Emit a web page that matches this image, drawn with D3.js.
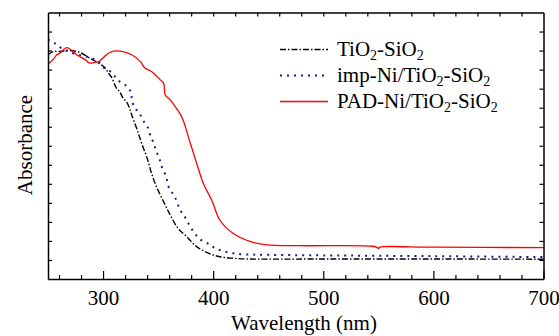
<!DOCTYPE html>
<html>
<head>
<meta charset="utf-8">
<script src="https://cdn.jsdelivr.net/npm/d3@7"></script>
<style>
  body { margin: 0; background: #fff; }
  svg text { font-family: 'Liberation Serif', 'DejaVu Serif', Times, serif; }
</style>
</head>
<body>
<svg id="chart" width="559" height="336"></svg>
<script>
// values (wavelength in nm, absorbance in arbitrary units)
const tsWl = [250, 255, 261, 268, 279, 288, 296, 302, 305, 308, 312, 315, 318, 322, 326, 331, 335, 340, 344, 349, 355, 361, 368, 376, 385, 396, 406, 418, 434, 500, 600, 700];
const tsAbs = [1.178, 1.195, 1.195, 1.201, 1.190, 1.160, 1.134, 1.108, 1.081, 1.057, 1.004, 0.985, 0.952, 0.924, 0.862, 0.783, 0.713, 0.635, 0.556, 0.478, 0.406, 0.336, 0.267, 0.222, 0.170, 0.135, 0.117, 0.109, 0.105, 0.105, 0.105, 0.104];

const impWl = [250, 256, 262, 270, 282, 290, 296, 302, 308, 313, 320, 325, 326, 328, 333, 337, 341, 343, 346, 348, 351, 353, 356, 358, 360, 365, 370, 375, 381, 388, 396, 402, 409, 418, 427, 450, 500, 600, 700];
const impAbs = [1.259, 1.239, 1.213, 1.191, 1.172, 1.160, 1.138, 1.103, 1.086, 1.046, 1.020, 0.985, 0.955, 0.906, 0.871, 0.827, 0.792, 0.752, 0.713, 0.675, 0.635, 0.594, 0.556, 0.520, 0.477, 0.433, 0.363, 0.319, 0.258, 0.209, 0.184, 0.161, 0.147, 0.135, 0.130, 0.127, 0.124, 0.120, 0.115];

const padWl = [250, 255, 258, 261, 267, 274, 276, 284, 288, 293, 296, 303, 308, 318, 326, 334, 338, 344, 352, 355, 356.5, 361, 365, 372, 378, 384, 391, 399, 406, 418, 434, 449, 479, 545, 549, 550, 551, 555, 600, 700];
const padAbs = [1.129, 1.155, 1.178, 1.187, 1.215, 1.188, 1.178, 1.151, 1.134, 1.139, 1.142, 1.178, 1.195, 1.195, 1.178, 1.142, 1.108, 1.090, 1.046, 1.029, 0.967, 0.941, 0.910, 0.845, 0.736, 0.626, 0.503, 0.410, 0.310, 0.240, 0.196, 0.179, 0.175, 0.172, 0.165, 0.160, 0.166, 0.170, 0.167, 0.165];

const xMajorTicks = [300, 400, 500, 600, 700];
const xTicks = d3.range(260, 700, 20);
const yTicks = d3.range(1, 14).map(d => d / 10);

const margin = { top: 12.5, right: 15.5, bottom: 57, left: 48 };
const w = 559;
const h = 336;
const serif = "'Liberation Serif', 'DejaVu Serif', Times, serif";

const svg = d3.select('#chart');

const x = d3.scaleLinear().domain([250, 700]).range([margin.left, w - margin.right]);
const y = d3.scaleLinear().domain([0, 1.4]).range([h - margin.bottom, margin.top]);

// curves
const series = [
  { wl: tsWl, abs: tsAbs, color: '#000', dash: '6,2,1.5,2', width: 1.4 },
  { wl: impWl, abs: impAbs, color: '#1a1a8c', dash: '2,5', width: 2 },
  { wl: padWl, abs: padAbs, color: '#ff0000', dash: null, width: 1.3 }
];

const line = d3.line()
  .x(d => x(d[0]))
  .y(d => y(d[1]))
  .curve(d3.curveCatmullRom.alpha(0.5));

series.forEach(s => {
  svg.append('path')
    .datum(s.wl.map((v, i) => [v, s.abs[i]]))
    .attr('fill', 'none')
    .attr('stroke', s.color)
    .attr('stroke-width', s.width)
    .attr('stroke-dasharray', s.dash)
    .attr('d', line);
});

// axes, ticks pointing inward
const axisStyle = g => {
  g.selectAll('.domain').attr('stroke', '#000').attr('stroke-width', 1.5);
  g.selectAll('.tick line').attr('stroke', '#000').attr('stroke-width', 1.2);
};

svg.append('g')
  .attr('transform', `translate(0,${h - margin.bottom})`)
  .call(d3.axisBottom(x).tickValues(xTicks.filter(d => d % 100 !== 0)).tickSizeInner(-4).tickSizeOuter(0).tickFormat(''))
  .call(axisStyle);

svg.append('g')
  .attr('transform', `translate(0,${h - margin.bottom})`)
  .attr('font-family', serif)
  .call(d3.axisBottom(x).tickValues(xMajorTicks).tickSizeInner(-8).tickSizeOuter(0).tickPadding(11))
  .call(axisStyle)
  .call(g => g.select('.domain').remove())
  .call(g => g.selectAll('text')
    .attr('fill', '#000')
    .attr('font-family', serif)
    .style('font-size', '21px'));

svg.append('g')
  .attr('transform', `translate(0,${margin.top})`)
  .call(d3.axisTop(x).tickValues(xTicks).tickSizeInner(-4).tickSizeOuter(0).tickFormat(''))
  .call(axisStyle);

svg.append('g')
  .attr('transform', `translate(${margin.left},0)`)
  .call(d3.axisLeft(y).tickValues(yTicks).tickSizeInner(-4).tickSizeOuter(0).tickFormat(''))
  .call(axisStyle);

svg.append('g')
  .attr('transform', `translate(${w - margin.right},0)`)
  .call(d3.axisRight(y).tickValues(yTicks).tickSizeInner(-4).tickSizeOuter(0).tickFormat(''))
  .call(axisStyle);

// axis titles
svg.append('text')
  .attr('x', 304)
  .attr('y', 330)
  .attr('text-anchor', 'middle')
  .attr('font-family', serif)
  .style('font-size', '21px')
  .text('Wavelength (nm)');

svg.append('text')
  .attr('transform', 'translate(32,145) rotate(-90)')
  .attr('text-anchor', 'middle')
  .attr('font-family', serif)
  .style('font-size', '21px')
  .text('Absorbance');

// legend
const legend = svg.append('g').attr('transform', 'translate(280, 56)');
const legendParts = [['', 'TiO', '2', '-SiO', '2'], ['imp-Ni/', 'TiO', '2', '-SiO', '2'], ['PAD-Ni/', 'TiO', '2', '-SiO', '2']];

series.forEach((s, i) => {
  const row = legend.append('g').attr('transform', `translate(0, ${i * 26})`);
  row.append('line')
    .attr('x1', 0).attr('x2', 48)
    .attr('y1', -6.5).attr('y2', -6.5)
    .attr('stroke', s.color)
    .attr('stroke-width', s.width)
    .attr('stroke-dasharray', s.dash);
  const t = row.append('text').attr('x', 57).attr('font-family', serif).style('font-size', '21px');
  const parts = legendParts[i];
  t.append('tspan').text(parts[0] + parts[1]);
  t.append('tspan').attr('dy', 4).style('font-size', '14px').text(parts[2]);
  t.append('tspan').attr('dy', -4).text(parts[3]);
  t.append('tspan').attr('dy', 4).style('font-size', '14px').text(parts[4]);
});
</script>
</body>
</html>
